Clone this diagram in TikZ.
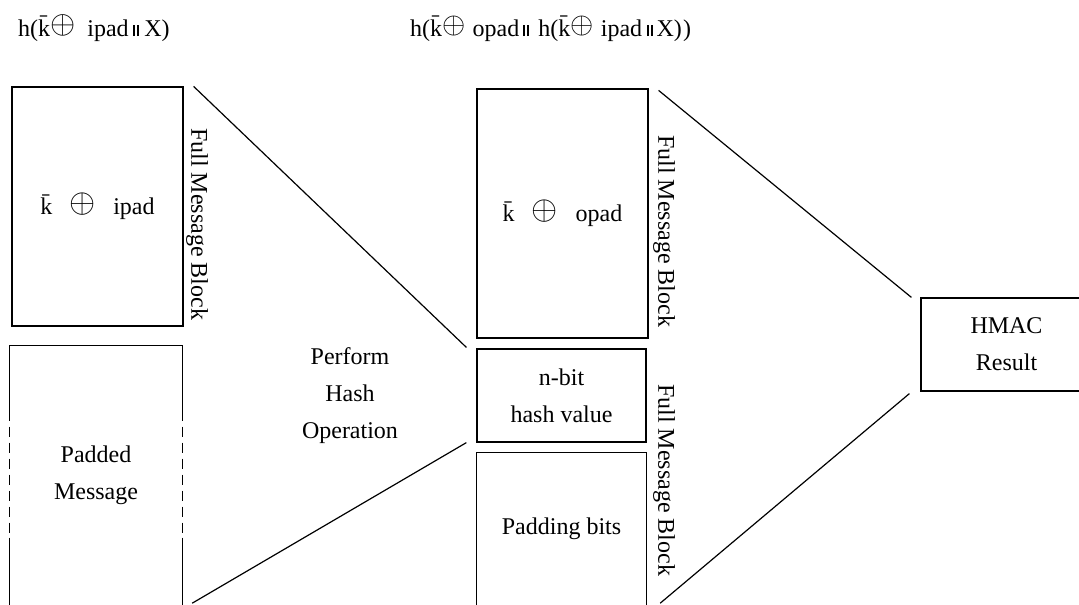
\documentclass[tikz,border=0pt]{standalone}
\usepackage{fontspec}
\setmainfont{Liberation Serif}
\usepackage{graphicx}
\usetikzlibrary{calc}

% symbols used in the labels
\newcommand{\xorsym}[1][1.25]{\raisebox{0.1em}{\scalebox{#1}{$\oplus$}}}
\newcommand{\kbar}{\={k}}
\newcommand{\concat}{\rule{2pt}{0.45em}\kern2pt\rule{2pt}{0.45em}}

\tikzset{
  txt/.style={font=\fontsize{24}{37}\selectfont, inner sep=0pt, align=center},
  edge/.style={line width=1.2pt},
  blk/.style={txt, draw, line width=1.2pt},
  openblk/.style={txt},
  side/.style={txt, rotate=-90},
  link/.style={line width=1.2pt}
}

\begin{document}
\begin{tikzpicture}[x=1pt, y=-1pt]
\useasboundingbox (0,0) rectangle (1079,605);
\clip (0,0) rectangle (1079,605);

% headings
\node[txt, anchor=base west] (hin) at (18,36)
  {h(\kbar\xorsym[1.3]\hspace{0.5em}ipad\hspace{0.2em}\concat\hspace{0.2em}X)};
\node[txt, anchor=base west] (hout) at (410,36)
  {h(\kbar\xorsym[1.2]\hspace{0.3em}opad\hspace{0.15em}\concat\hspace{0.4em}h(\kbar\xorsym[1.2]\hspace{0.3em}ipad\hspace{0.2em}\concat\hspace{0.15em}X)\hspace{0.05em})};

% inner hash input
\node[blk, minimum width=171pt, minimum height=239pt] (ipadbox) at (97.5,206.5)
  {\kbar\hspace{0.7em}\xorsym[1.35]\hspace{0.75em}ipad};
\node[openblk, minimum width=172pt, minimum height=259pt] (padmsg) at (96,475.5)
  {Padded\\Message};
\draw[edge] ($(padmsg.west)+(0,-65)$) -- (padmsg.north west) -- (padmsg.north east) -- ($(padmsg.east)+(0,-65)$);
\draw[edge, dash pattern=on 10pt off 6pt] ($(padmsg.west)+(0,-65)$) -- ($(padmsg.west)+(0,62)$);
\draw[edge, dash pattern=on 10pt off 6pt] ($(padmsg.east)+(0,-65)$) -- ($(padmsg.east)+(0,62)$);
\draw[edge] ($(padmsg.west)+(0,62)$) -- (padmsg.south west);
\draw[edge] ($(padmsg.east)+(0,62)$) -- (padmsg.south east);
\node[side] (fmb1) at (197,224) {Full Message Block};

\node[txt] (perform) at (350,396) {Perform\\Hash\\Operation};

% outer hash input
\node[blk, minimum width=171pt, minimum height=249pt] (opadbox) at (562.5,213.5)
  {\kbar\hspace{0.7em}\xorsym[1.35]\hspace{0.75em}opad};
\node[blk, minimum width=169pt, minimum height=93pt] (hashbox) at (561.5,395.5)
  {n-bit\\hash value};
\node[openblk, minimum width=169pt, minimum height=152pt] (padbits) at (561.5,529)
  {Padding bits};
\draw[edge] (padbits.south west) -- (padbits.north west) -- (padbits.north east) -- (padbits.south east);
\node[side] (fmb2) at (664,231) {Full Message Block};
\node[side] (fmb3) at (664,480) {Full Message Block};

% result
\node[blk, minimum width=171pt, minimum height=93pt] (hmac) at (1006.5,344.5)
  {HMAC\\Result};

% connectors
\draw[link] ($(ipadbox.north east)+(10,0)$) -- ($(hashbox.north west)+(-10,-1)$);
\draw[link] ($(padmsg.south east)+(10,-2)$) -- ($(hashbox.south west)+(-10,0)$);
\draw[link] ($(opadbox.north east)+(10,2)$) -- ($(hmac.north west)+(-9,0)$);
\draw[link] ($(padbits.south east)+(14,-2)$) -- ($(hmac.south west)+(-11,2)$);
\end{tikzpicture}
\end{document}
